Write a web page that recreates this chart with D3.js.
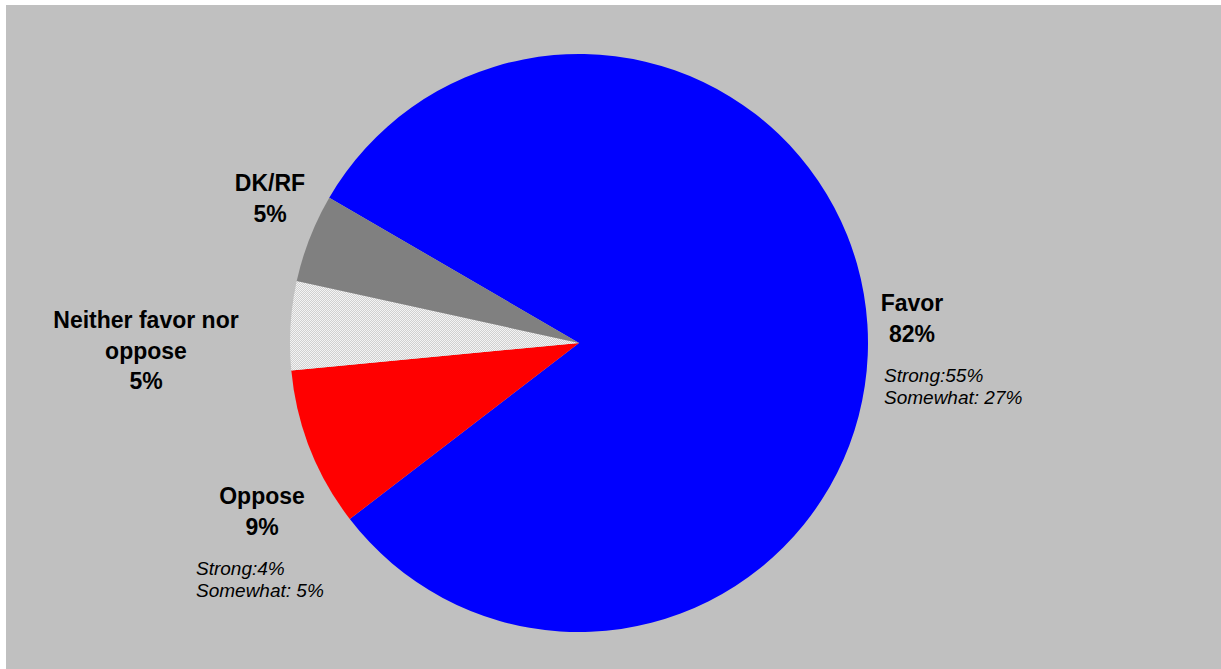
<!DOCTYPE html>
<html>
<head>
<meta charset="utf-8">
<script src="https://cdn.jsdelivr.net/npm/d3@7"></script>
<style>
  html, body { margin: 0; padding: 0; background: #ffffff; }
  svg { display: block; }
  text { font-family: "Liberation Sans", Arial, sans-serif; fill: #000; }
</style>
</head>
<body>
<svg id="chart" width="1221" height="669"></svg>
<script>
// ---- data ----
const categories = ["Favor", "Oppose", "Neither favor nor oppose", "DK/RF"];
const values = [82, 9, 5, 5];
const colors = ["#0000FF", "#FF0000", "url(#checker)", "#808080"];
const mainLabels = [["Favor", "82%"], ["Oppose", "9%"], ["Neither favor nor", "oppose", "5%"], ["DK/RF", "5%"]];
const subLabels = [["Strong:55%", "Somewhat: 27%"], ["Strong:4%", "Somewhat: 5%"], [], []];

const svg = d3.select("#chart");
const W = 1221, H = 669;

// pattern for "Neither"
const defs = svg.append("defs");
const pat = defs.append("pattern").attr("id", "checker")
  .attr("patternUnits", "userSpaceOnUse").attr("width", 2).attr("height", 2);
pat.append("rect").attr("width", 2).attr("height", 2).attr("fill", "#f4f4f4");
pat.append("rect").attr("x", 1).attr("y", 0).attr("width", 1).attr("height", 1).attr("fill", "#d0d0d0");
pat.append("rect").attr("x", 0).attr("y", 1).attr("width", 1).attr("height", 1).attr("fill", "#d0d0d0");

// background
svg.append("rect").attr("x", 6).attr("y", 5).attr("width", W - 6).attr("height", H - 5).attr("fill", "#C0C0C0");

const cx = 579, cy = 343, r = 289;
const startA = -59.8 * Math.PI / 180;

const pie = d3.pie().sort(null).value(d => d)
  .startAngle(startA).endAngle(startA + 2 * Math.PI);
const arc = d3.arc().innerRadius(0).outerRadius(r);

const g = svg.append("g").attr("transform", `translate(${cx},${cy})`);
g.selectAll("path").data(pie(values)).join("path")
  .attr("d", arc)
  .attr("fill", (d, i) => colors[i]);

// labels
const mainPos = [
  { x: 912, y: 311 },
  { x: 262, y: 504 },
  { x: 146, y: 328 },
  { x: 270, y: 191 }
];
const subPos = [
  { x: 884, y: 382 },
  { x: 196, y: 575 },
  null, null
];
const lh = 30.5, slh = 22;

mainLabels.forEach((lines, i) => {
  const t = svg.append("text")
    .attr("text-anchor", "middle")
    .attr("font-weight", "bold")
    .attr("font-size", "23px");
  lines.forEach((s, j) => {
    t.append("tspan").attr("x", mainPos[i].x).attr("y", mainPos[i].y + j * lh).text(s);
  });
});
subLabels.forEach((lines, i) => {
  if (!lines.length) return;
  const t = svg.append("text")
    .attr("font-style", "italic")
    .attr("font-size", "19px");
  lines.forEach((s, j) => {
    t.append("tspan").attr("x", subPos[i].x).attr("y", subPos[i].y + j * slh).text(s);
  });
});
</script>
</body>
</html>
